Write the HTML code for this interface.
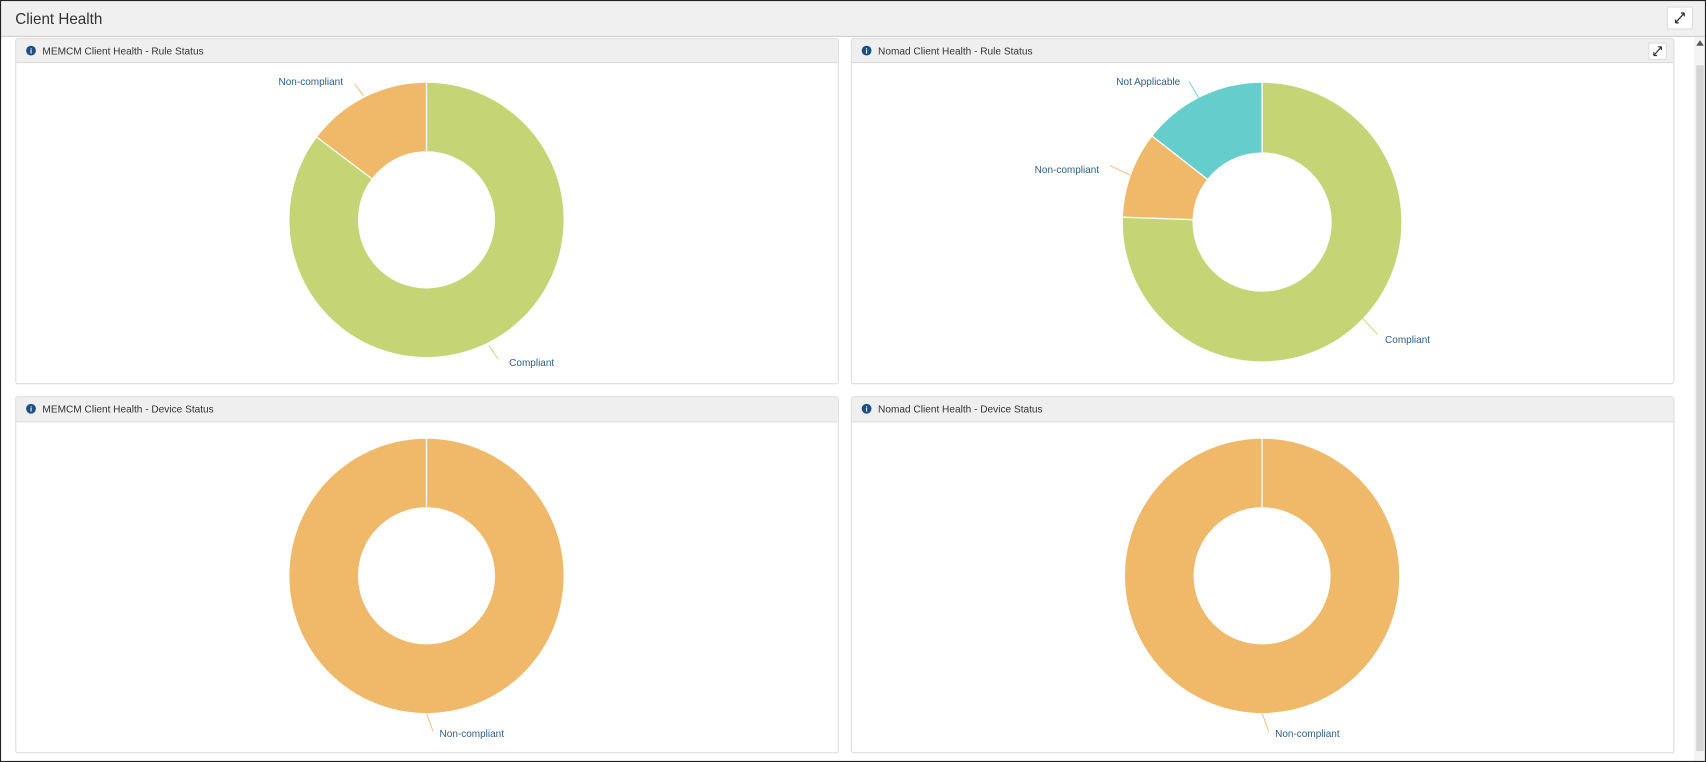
<!DOCTYPE html>
<html><head><meta charset="utf-8"><style>
html,body{margin:0;padding:0;background:#fff;overflow:hidden}
svg{display:block}
text{font-family:"Liberation Sans",sans-serif}
</style></head><body>
<svg width="1706" height="762" viewBox="0 0 1568 700" preserveAspectRatio="none" xmlns="http://www.w3.org/2000/svg">
<rect x="0" y="0" width="1568" height="700" fill="#fff"/>
<rect x="1" y="1" width="1566" height="32" fill="#f0f0f0"/>
<line x1="1" y1="33.5" x2="1567" y2="33.5" stroke="#d0d0d0"/>
<text x="14" y="22" font-size="14" fill="#333">Client Health</text>
<rect x="1532.5" y="6.5" width="23" height="20" fill="#fff" stroke="#ddd"/>
<path d="M1540 21 L1548 12 M1540 21 h3 M1540 21 v-3 M1548 12 h-3 M1548 12 v3" stroke="#333" stroke-width="1.2" fill="none"/>
<rect x="1557" y="34" width="10" height="665" fill="#f4f4f4"/>
<rect x="1559" y="60" width="7" height="630" fill="#d4d4d4"/>
<path d="M1559 42 L1562.5 37 L1566 42 Z" fill="#555"/>
<g fill="#fff" stroke="#dcdcdc">
<rect x="14.5" y="35.5" width="756" height="317" rx="2"/>
<rect x="782.5" y="35.5" width="756" height="317" rx="2"/>
<rect x="14.5" y="364.5" width="756" height="327" rx="2"/>
<rect x="782.5" y="364.5" width="756" height="327" rx="2"/>
</g>
<g fill="#efefef">
<rect x="15" y="36" width="755" height="21"/>
<rect x="783" y="36" width="755" height="21"/>
<rect x="15" y="365" width="755" height="22"/>
<rect x="783" y="365" width="755" height="22"/>
</g>
<g stroke="#dcdcdc"><line x1="15" y1="57.5" x2="770" y2="57.5"/><line x1="783" y1="57.5" x2="1538" y2="57.5"/><line x1="15" y1="387.5" x2="770" y2="387.5"/><line x1="783" y1="387.5" x2="1538" y2="387.5"/></g>
<g fill="#1d4f86"><circle cx="28.5" cy="46.5" r="4.5"/><circle cx="796.5" cy="46.5" r="4.5"/><circle cx="28.5" cy="375.5" r="4.5"/><circle cx="796.5" cy="375.5" r="4.5"/></g>
<g fill="#fff" font-size="7" font-weight="bold" text-anchor="middle"><text x="28.5" y="49">i</text><text x="796.5" y="49">i</text><text x="28.5" y="378">i</text><text x="796.5" y="378">i</text></g>
<g font-size="9.3" fill="#333">
<text x="39" y="50">MEMCM Client Health - Rule Status</text>
<text x="807" y="50">Nomad Client Health - Rule Status</text>
<text x="39" y="379">MEMCM Client Health - Device Status</text>
<text x="807" y="379">Nomad Client Health - Device Status</text>
</g>
<rect x="1515.5" y="39.5" width="16" height="15" fill="#fff" stroke="#ddd"/>
<path d="M1520 51 L1527 43 M1520 51 h3 M1520 51 v-3 M1527 43 h-3 M1527 43 v3" stroke="#333" stroke-width="1.1" fill="none"/>
<g transform="translate(392,202) rotate(-90)" fill="none" stroke-width="63">
<circle r="94.5" stroke="#c5d474" stroke-dasharray="506.4 1000"/>
<circle r="94.5" stroke="#f0b869" stroke-dasharray="87.4 1000" stroke-dashoffset="-506.4"/>
</g>
<g stroke="#fff" stroke-width="1.2"><line x1="392" y1="139" x2="392" y2="76"/><line x1="341.7" y1="164.1" x2="291.4" y2="126.2"/></g>
<g transform="translate(1160,204) rotate(-90)" fill="none" stroke-width="64">
<circle r="96" stroke="#c5d474" stroke-dasharray="455.8 1000"/>
<circle r="96" stroke="#f0b869" stroke-dasharray="60.3 1000" stroke-dashoffset="-455.8"/>
<circle r="96" stroke="#66cdcd" stroke-dasharray="87.1 1000" stroke-dashoffset="-516.1"/>
</g>
<g stroke="#fff" stroke-width="1.2"><line x1="1160" y1="140" x2="1160" y2="76"/><line x1="1096" y1="201.8" x2="1032" y2="199.5"/><line x1="1109.6" y1="164.6" x2="1059.1" y2="125.2"/></g>
<circle cx="392" cy="529" r="94.5" fill="none" stroke="#f0b869" stroke-width="63"/>
<line x1="392" y1="466" x2="392" y2="403" stroke="#fff" stroke-width="1.2"/>
<circle cx="1160" cy="529" r="94.5" fill="none" stroke="#f0b869" stroke-width="63"/>
<line x1="1160" y1="466" x2="1160" y2="403" stroke="#fff" stroke-width="1.2"/>
<g fill="none" stroke-width="0.8">
<path d="M326 77 L334 88" stroke="#f0b869"/>
<path d="M449 317 L458 330" stroke="#c5d474"/>
<path d="M1093 75 L1103 92" stroke="#66cdcd"/>
<path d="M1020 152 L1039 161" stroke="#f0b869"/>
<path d="M1250 290 L1266 307" stroke="#c5d474"/>
<path d="M392 655 L398 672" stroke="#f0b869"/>
<path d="M1160 655 L1166 672" stroke="#f0b869"/>
</g>
<g font-size="9.2" fill="#2c5f8c">
<text x="256" y="78">Non-compliant</text>
<text x="468" y="336">Compliant</text>
<text x="1026" y="78">Not Applicable</text>
<text x="951" y="159">Non-compliant</text>
<text x="1273" y="315">Compliant</text>
<text x="404" y="677">Non-compliant</text>
<text x="1172" y="677">Non-compliant</text>
</g>
<rect x="0.5" y="0.5" width="1567" height="699" fill="none" stroke="#222"/>
</svg>
</body></html>
